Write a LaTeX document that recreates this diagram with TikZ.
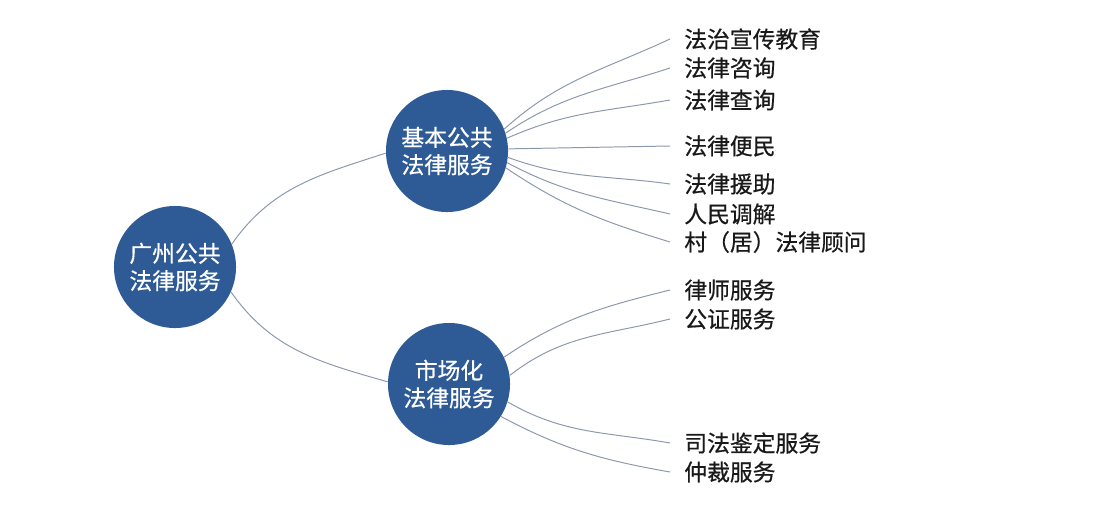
\documentclass[tikz,border=0pt]{standalone}
\usepackage{fontspec}
\newfontfamily\cjk[FakeBold=0.6]{Noto Sans CJK SC}
\definecolor{hubblue}{RGB}{46,91,150}
\definecolor{linkgray}{RGB}{140,152,172}

\begin{document}
\begin{tikzpicture}[x = 0.025cm, y = 0.025cm,
  hub/.style = {circle, fill = hubblue, minimum size = 3.05cm, inner sep = 0, text = white, align = center, font = \cjk\fontsize{16.2}{19.5}\selectfont},
  leaf/.style = {anchor = west, inner xsep = 10pt, inner ysep = 1pt, text = black!90, font = \cjk\fontsize{16.2}{19.5}\selectfont},
  link/.style = {draw = linkgray, line width = 0.7pt}]
\useasboundingbox (0, 0) rectangle (1096, -526);
\node [hub] (root) at (175, -267) {广州公共\\法律服务};
\node [hub] (basic) at (447, -151) {基本公共\\法律服务};
\node [hub] (market) at (449, -384) {市场化\\法律服务};
\node [leaf] (l1) at (670, -39) {法治宣传教育};
\node [leaf] (l2) at (670, -68) {法律咨询};
\node [leaf] (l3) at (670, -100) {法律查询};
\node [leaf] (l4) at (670, -146) {法律便民};
\node [leaf] (l5) at (670, -184) {法律援助};
\node [leaf] (l6) at (670, -214) {人民调解};
\node [leaf] (l7) at (670, -242) {村（居）法律顾问};
\node [leaf] (m1) at (670, -290) {律师服务};
\node [leaf] (m2) at (670, -319) {公证服务};
\node [leaf] (m3) at (670, -443) {司法鉴定服务};
\node [leaf] (m4) at (670, -472) {仲裁服务};
\draw [link] (root.22) to [out = 55, in = 198] (basic.182);
\draw [link] (root.-24) to [out = -55, in = 164] (market.178);
\draw [link] (basic.21) to [out = 42, in = 205] (l1.west);
\draw [link] (basic.17) to [out = 34, in = 198] (l2.west);
\draw [link] (basic.12) to [out = 24, in = 190] (l3.west);
\draw [link] (basic.2) -- (l4.west);
\draw [link] (basic.-6) to [out = -20, in = 172] (l5.west);
\draw [link] (basic.-11) to [out = -28, in = 167] (l6.west);
\draw [link] (basic.-16) to [out = -34, in = 163] (l7.west);
\draw [link] (market.26) to [out = 34, in = 194] (m1.west);
\draw [link] (market.8) to [out = 38, in = 194] (m2.west);
\draw [link] (market.-17) to [out = -30, in = 170] (m3.west);
\draw [link] (market.-32) to [out = -28, in = 170] (m4.west);
\end{tikzpicture}
\end{document}
